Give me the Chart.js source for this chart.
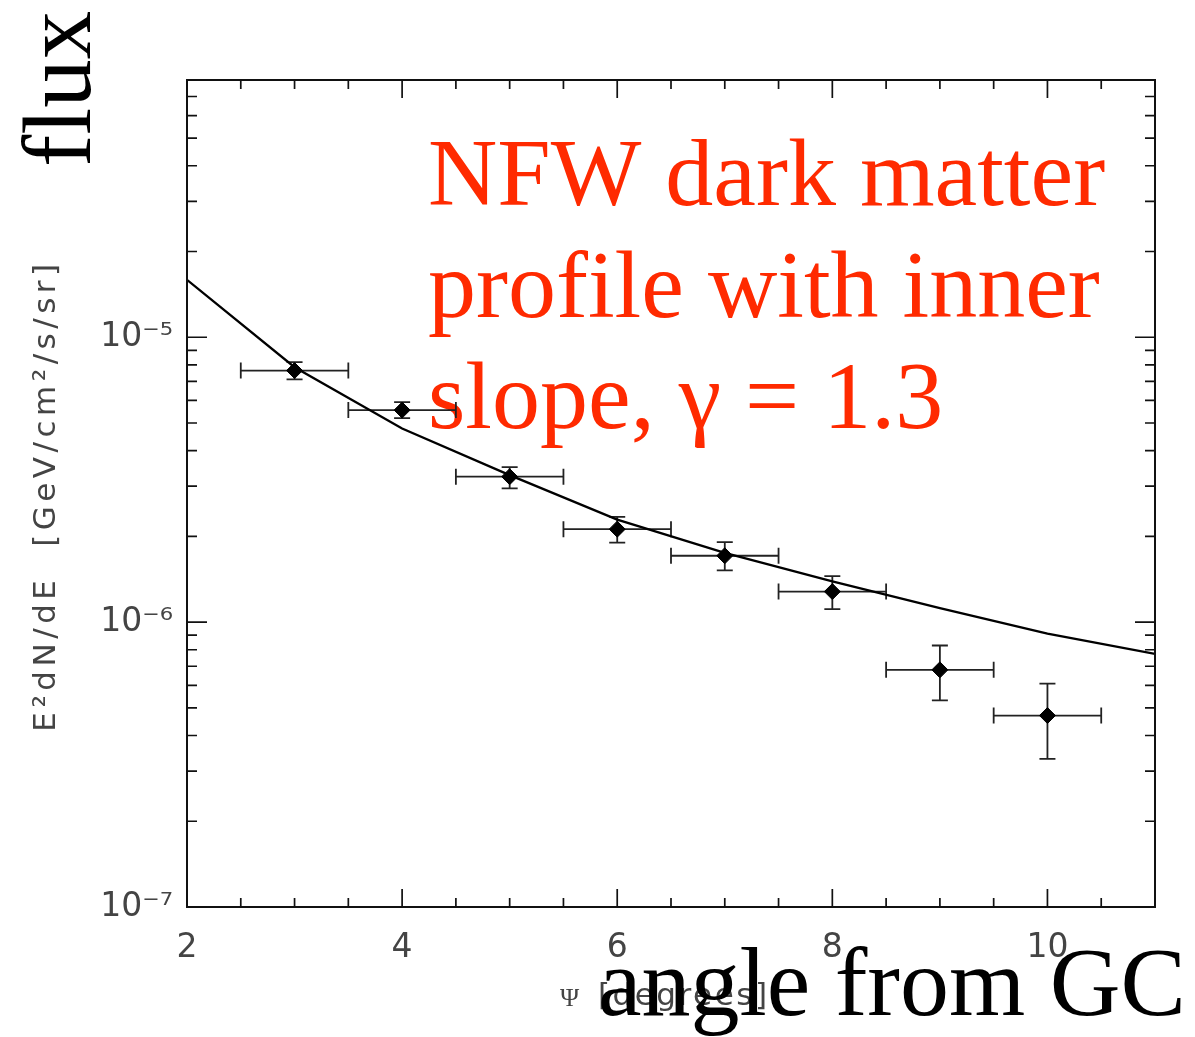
<!DOCTYPE html>
<html><head><meta charset="utf-8">
<script src="https://cdn.jsdelivr.net/npm/chart.js@4.4.1/dist/chart.umd.min.js"></script>
<style>html,body{margin:0;padding:0;background:#fff;overflow:hidden}#wrap{width:1195px;height:1037px;position:relative}</style>
</head><body><div id="wrap"><canvas id="c" width="1195" height="1037"></canvas></div>
<script>
// ---- data ----
const angles = [3, 4, 5, 6, 7, 8, 9, 10];
const angleHalfWidth = [0.5, 0.5, 0.5, 0.5, 0.5, 0.5, 0.5, 0.5];
const flux = [7.64e-6, 5.55e-6, 3.24e-6, 2.12e-6, 1.71e-6, 1.28e-6, 6.8e-7, 4.7e-7];
const fluxHigh = [8.18e-6, 5.92e-6, 3.50e-6, 2.34e-6, 1.91e-6, 1.45e-6, 8.28e-7, 6.08e-7];
const fluxLow = [7.11e-6, 5.20e-6, 2.95e-6, 1.90e-6, 1.52e-6, 1.11e-6, 5.31e-7, 3.31e-7];
const modelAngles = [2, 3, 4, 5, 6, 7, 8, 9, 10, 11];
const modelFlux = [1.59e-5, 7.85e-6, 4.78e-6, 3.28e-6, 2.29e-6, 1.75e-6, 1.39e-6, 1.12e-6, 9.12e-7, 7.74e-7];
const xMajorTicks = [2, 4, 6, 8, 10];
const yDecades = [-7, -6, -5];
const yDecadeLabels = ['10⁻⁷', '10⁻⁶', '10⁻⁵'];
const xRange = [2, 11];
const yRange = [1e-7, 8e-5];
const yTitle = 'E²dN/dE  [GeV/cm²/s/sr]';
const xTitleSymbol = 'Ψ';
const xTitleUnit = '[degrees]';
const noteLines = ['NFW dark matter', 'profile with inner', 'slope, γ = 1.3'];
const bigXLabel = 'angle from GC';
const bigYLabel = 'flux';

// y tick values (1..9 x 10^n) inside the range
const yTickValues = [];
yDecades.forEach(d => { for (let m = 1; m <= 9; m++) { const v = m * Math.pow(10, d); if (v <= yRange[1] * 1.0001) yTickValues.push(v); } });

const SANS = '"DejaVu Sans", sans-serif';
const SERIF = '"Liberation Serif", "Times New Roman", serif';

function isDecade(v) { const e = Math.log10(v); return Math.abs(e - Math.round(e)) < 1e-6; }

const decorPlugin = {
  id: 'decor',
  beforeDatasetsDraw(chart) {
    const ctx = chart.ctx;
    const xs = chart.scales.x, ys = chart.scales.y;
    // annotation text (red)
    ctx.save();
    ctx.fillStyle = '#ff2a00';
    ctx.font = '96px ' + SERIF;
    ctx.textAlign = 'left';
    ctx.textBaseline = 'alphabetic';
    const bases = [205, 317, 428];
    noteLines.forEach((t, i) => ctx.fillText(t, 428, bases[i]));
    ctx.restore();
    // error bars
    ctx.save();
    ctx.strokeStyle = '#222';
    ctx.lineWidth = 1.8;
    const cap = 8;
    angles.forEach((a, i) => {
      const xc = xs.getPixelForValue(a);
      const xl = xs.getPixelForValue(a - angleHalfWidth[i]);
      const xr = xs.getPixelForValue(a + angleHalfWidth[i]);
      const yc = ys.getPixelForValue(flux[i]);
      const yh = ys.getPixelForValue(fluxHigh[i]);
      const yl = ys.getPixelForValue(fluxLow[i]);
      ctx.beginPath();
      ctx.moveTo(xl, yc); ctx.lineTo(xr, yc);
      ctx.moveTo(xl, yc - cap); ctx.lineTo(xl, yc + cap);
      ctx.moveTo(xr, yc - cap); ctx.lineTo(xr, yc + cap);
      ctx.moveTo(xc, yh); ctx.lineTo(xc, yl);
      ctx.moveTo(xc - cap, yh); ctx.lineTo(xc + cap, yh);
      ctx.moveTo(xc - cap, yl); ctx.lineTo(xc + cap, yl);
      ctx.stroke();
    });
    ctx.restore();
  },
  afterDatasetsDraw(chart) {
    const ctx = chart.ctx;
    const a = chart.chartArea;
    const xs = chart.scales.x, ys = chart.scales.y;
    ctx.save();
    ctx.strokeStyle = '#111';
    ctx.lineWidth = 2;
    ctx.strokeRect(a.left, a.top, a.right - a.left, a.bottom - a.top);
    ctx.lineWidth = 1.7;
    ctx.beginPath();
    xs.ticks.forEach(t => {
      const px = xs.getPixelForValue(t.value);
      const len = xMajorTicks.includes(t.value) ? 18 : 9;
      ctx.moveTo(px, a.bottom); ctx.lineTo(px, a.bottom - len);
      ctx.moveTo(px, a.top); ctx.lineTo(px, a.top + len);
    });
    ys.ticks.forEach(t => {
      const py = ys.getPixelForValue(t.value);
      const len = isDecade(t.value) ? 20 : 10;
      ctx.moveTo(a.left, py); ctx.lineTo(a.left + len, py);
      ctx.moveTo(a.right, py); ctx.lineTo(a.right - len, py);
    });
    ctx.stroke();
    ctx.restore();
  },
  afterDraw(chart) {
    const ctx = chart.ctx;
    const a = chart.chartArea;
    // y axis title
    ctx.save();
    ctx.fillStyle = '#444';
    ctx.font = '31px ' + SANS;
    ctx.letterSpacing = '4.5px';
    ctx.translate(47, (a.top + a.bottom) / 2 + 2);
    ctx.rotate(-Math.PI / 2);
    ctx.textAlign = 'center';
    ctx.textBaseline = 'middle';
    ctx.fillText(yTitle, 0, 0);
    ctx.restore();
    // x axis title
    ctx.save();
    ctx.fillStyle = '#444';
    ctx.textBaseline = 'middle';
    ctx.textAlign = 'left';
    ctx.font = '26px ' + SERIF;
    ctx.fillText(xTitleSymbol, 560, 999);
    ctx.font = '31px ' + SANS;
    ctx.letterSpacing = '2.5px';
    ctx.fillText(xTitleUnit, 598, 997);
    ctx.restore();
    // big black labels
    ctx.save();
    ctx.fillStyle = '#000';
    ctx.font = '98px ' + SERIF;
    ctx.textAlign = 'left';
    ctx.textBaseline = 'alphabetic';
    ctx.fillText(bigXLabel, 598, 1015);
    ctx.translate(90, 167);
    ctx.rotate(-Math.PI / 2);
    ctx.font = '97px ' + SERIF;
    ctx.fillText(bigYLabel, 0, 0);
    ctx.restore();
  }
};

new Chart(document.getElementById('c'), {
  type: 'line',
  data: {
    datasets: [
      {
        label: 'model',
        data: modelAngles.map((x, i) => ({ x, y: modelFlux[i] })),
        borderColor: '#000', borderWidth: 2.3, pointRadius: 0, tension: 0, fill: false, order: 2
      },
      {
        label: 'data',
        data: angles.map((x, i) => ({ x, y: flux[i] })),
        showLine: false, pointStyle: 'rectRot', pointRadius: 8,
        pointBackgroundColor: '#000', pointBorderColor: '#000', pointBorderWidth: 1, order: 1
      }
    ]
  },
  options: {
    responsive: false, animation: false, devicePixelRatio: 1,
    layout: { padding: { top: 80, right: 40, left: 0, bottom: 0 } },
    plugins: { legend: { display: false }, tooltip: { enabled: false } },
    scales: {
      x: {
        type: 'linear', min: xRange[0], max: xRange[1],
        grid: { display: false, drawTicks: false }, border: { display: false },
        ticks: {
          stepSize: 0.5, autoSkip: false, maxRotation: 0, padding: 22,
          font: { family: SANS, size: 33 }, color: '#444',
          callback: v => xMajorTicks.includes(v) ? String(v) : ''
        },
        afterFit: s => { s.height = 130; }
      },
      y: {
        type: 'logarithmic', min: yRange[0], max: yRange[1],
        grid: { display: false, drawTicks: false }, border: { display: false },
        afterBuildTicks: s => { s.ticks = yTickValues.map(v => ({ value: v })); },
        ticks: {
          autoSkip: false, padding: 14,
          font: { family: SANS, size: 33 }, color: '#444',
          callback: v => {
            if (!isDecade(v)) return '';
            const idx = yDecades.indexOf(Math.round(Math.log10(v)));
            return idx >= 0 ? yDecadeLabels[idx] : '';
          }
        },
        afterFit: s => { s.width = 187; }
      }
    }
  },
  plugins: [decorPlugin]
});
</script>
</body></html>
